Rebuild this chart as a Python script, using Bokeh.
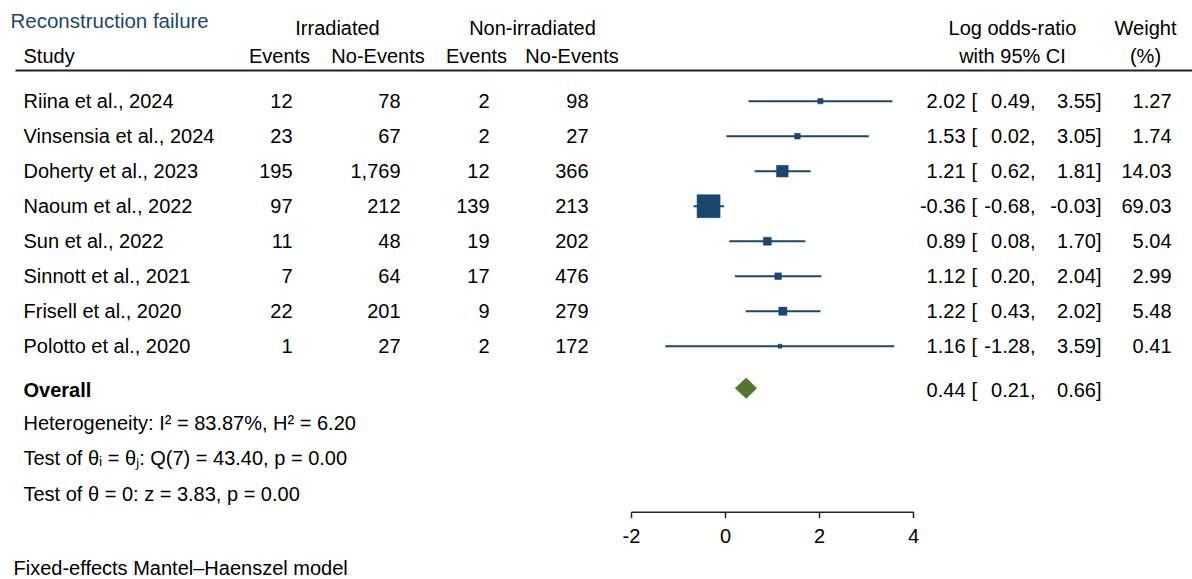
import numpy as np
from bokeh.plotting import figure
from bokeh.models import Range1d
from bokeh.embed import file_html
from bokeh.resources import INLINE
from bokeh.core.properties import value

# ---------------- data ----------------
studies = ["Riina et al., 2024", "Vinsensia et al., 2024", "Doherty et al., 2023",
           "Naoum et al., 2022", "Sun et al., 2022", "Sinnott et al., 2021",
           "Frisell et al., 2020", "Polotto et al., 2020"]
irr_events = [12, 23, 195, 97, 11, 7, 22, 1]
irr_noevents = [78, 67, 1769, 212, 48, 64, 201, 27]
non_events = [2, 2, 12, 139, 19, 17, 9, 2]
non_noevents = [98, 27, 366, 213, 202, 476, 279, 172]
log_or = [2.02, 1.53, 1.21, -0.36, 0.89, 1.12, 1.22, 1.16]
ci_low = [0.49, 0.02, 0.62, -0.68, 0.08, 0.20, 0.43, -1.28]
ci_high = [3.55, 3.05, 1.81, -0.03, 1.70, 2.04, 2.02, 3.59]
weights = [1.27, 1.74, 14.03, 69.03, 5.04, 2.99, 5.48, 0.41]
overall_est, overall_lo, overall_hi = 0.44, 0.21, 0.66
axis_ticks = [-2, 0, 2, 4]
stats_lines = ["Heterogeneity: I\u00b2 = 83.87%, H\u00b2 = 6.20",
               "Test of \u03b8\u1d62 = \u03b8\u2c7c: Q(7) = 43.40, p = 0.00",
               "Test of \u03b8 = 0: z = 3.83, p = 0.00"]
title_text = "Reconstruction failure"
footnote = "Fixed-effects Mantel\u2013Haenszel model"

# ---------------- layout helpers ----------------
W, H = 1192, 579
X0, XS = 725.0, 47.0      # pixel of 0 and pixels per unit
Y0, ROW = 100.7, 35.0     # pixel of first row, row spacing


def fx(px):
    return (px - X0) / XS


def fy(py):
    return (py - Y0) / ROW


FONT = "Liberation Sans"
FS = "20px"
NAVY = "#1a476f"
GREEN = "#55752f"

p = figure(width=W, height=H, output_backend="svg", toolbar_location=None,
           x_range=Range1d(fx(0), fx(W)),
           y_range=Range1d(fy(H), fy(0)),
           x_axis_location=None, y_axis_location=None, min_border=0)
p.outline_line_color = None
p.xgrid.visible = False
p.ygrid.visible = False
p.background_fill_color = "white"
p.border_fill_color = "white"


def txt(xs, ys, texts, align="left", color="black", bold=False, size=FS):
    p.text(x=list(xs), y=list(ys), text=list(texts), text_align=align,
           text_baseline="middle", text_font=value(FONT),
           text_font_size=value(size), text_color=color,
           text_font_style="bold" if bold else "normal")


n = len(studies)
rows = list(range(n))

# ---------------- header ----------------
txt([fx(10)], [fy(19.5)], [title_text], color=NAVY, size="20.5px")
txt([fx(337), fx(532)], [fy(27)] * 2, ["Irradiated", "Non-irradiated"], align="center")
txt([fx(23)], [fy(55)], ["Study"])
txt([fx(279), fx(377.5), fx(476), fx(571.5)], [fy(55)] * 4,
    ["Events", "No-Events", "Events", "No-Events"], align="center")
txt([fx(1012), fx(1012)], [fy(27), fy(55)], ["Log odds-ratio", "with 95% CI"], align="center")
txt([fx(1145), fx(1145)], [fy(27), fy(55)], ["Weight", "(%)"], align="center")
p.segment(x0=[fx(15)], y0=[fy(70)], x1=[fx(W)], y1=[fy(70)],
          line_color="#222222", line_width=2)

# ---------------- study rows ----------------
txt([fx(23)] * n, rows, studies)
txt([fx(292)] * n, rows, [f"{v:,}" for v in irr_events], align="right")
txt([fx(400)] * n, rows, [f"{v:,}" for v in irr_noevents], align="right")
txt([fx(489)] * n, rows, [f"{v:,}" for v in non_events], align="right")
txt([fx(588)] * n, rows, [f"{v:,}" for v in non_noevents], align="right")

txt([fx(965)] * n, rows, [f"{v:.2f}" for v in log_or], align="right")
txt([fx(971)] * n, rows, ["["] * n)
txt([fx(1035)] * n, rows, [f"{v:.2f}," for v in ci_low], align="right")
txt([fx(1101)] * n, rows, [f"{v:.2f}]" for v in ci_high], align="right")
txt([fx(1171)] * n, rows, [f"{v:.2f}" for v in weights], align="right")

# CI lines and weight squares
p.segment(x0=ci_low, y0=rows, x1=ci_high, y1=rows, line_color=NAVY, line_width=2)
sizes = [2.4 + 2.48 * np.sqrt(w) for w in weights]
p.scatter(x=log_or, y=rows, size=sizes, marker="square",
          fill_color=NAVY, line_color=NAVY, line_width=0.5)

# ---------------- overall ----------------
yo = fy(387.7)
hd = 10.0 / ROW
txt([fx(23)], [fy(389)], ["Overall"], bold=True)
p.patch(x=[overall_lo, overall_est, overall_hi, overall_est],
        y=[yo, yo - hd, yo, yo + hd], fill_color=GREEN, line_color=GREEN)
txt([fx(965)], [fy(389)], [f"{overall_est:.2f}"], align="right")
txt([fx(971)], [fy(389)], ["["])
txt([fx(1035)], [fy(389)], [f"{overall_lo:.2f},"], align="right")
txt([fx(1101)], [fy(389)], [f"{overall_hi:.2f}]"], align="right")

# ---------------- statistics ----------------
txt([fx(23)] * 3, [fy(422), fy(457.5), fy(493)], stats_lines)

# ---------------- axis ----------------
ya = fy(511.7)
yt = fy(517.7)
p.segment(x0=[min(axis_ticks)], y0=[ya], x1=[max(axis_ticks)], y1=[ya],
          line_color="#222222", line_width=1.5)
p.segment(x0=axis_ticks, y0=[ya] * len(axis_ticks), x1=axis_ticks, y1=[yt] * len(axis_ticks),
          line_color="#222222", line_width=1.5)
txt(axis_ticks, [fy(535)] * len(axis_ticks), [str(t) for t in axis_ticks], align="center")

# ---------------- footnote ----------------
txt([fx(13)], [fy(567)], [footnote])

open("out.html", "w").write(file_html(p, INLINE))
